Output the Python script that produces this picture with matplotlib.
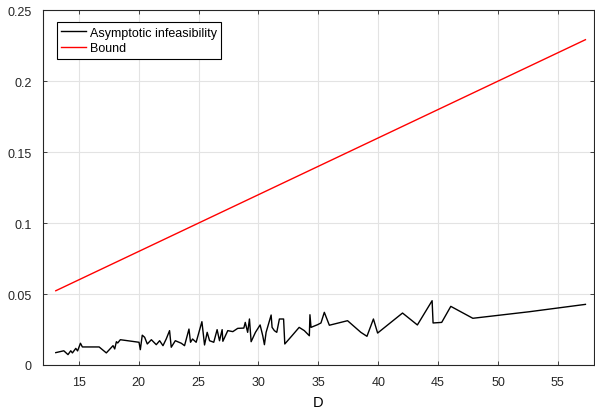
import matplotlib

matplotlib.use("Agg")
import matplotlib.pyplot as plt  # noqa: E402

# asymptotic infeasibility vs D
D = [13.08, 13.75, 14.1, 14.33, 14.47, 14.75, 14.9, 15.14, 15.3, 16.2, 16.7, 17.3,
     17.86, 18.0, 18.14, 18.25, 18.47, 20.03, 20.14, 20.3, 20.5, 20.72, 21.06, 21.47,
     21.75, 22.03, 22.3, 22.58, 22.72, 23.06, 23.56, 23.83, 24.2, 24.33, 24.5, 24.8,
     25.28, 25.5, 25.72, 25.92, 26.27, 26.55, 26.75, 26.97, 27.03, 27.44, 27.86, 28.27,
     28.78, 28.9, 29.1, 29.25, 29.39, 29.75, 30.14, 30.36, 30.5, 30.64, 31.06, 31.14,
     31.33, 31.53, 31.75, 32.1, 32.2, 32.8, 33.4, 33.83, 34.25, 34.3, 34.39, 34.94,
     35.22, 35.5, 35.92, 37.44, 38.55, 39.06, 39.6, 39.95, 42.03, 43.27, 44.5, 44.58,
     45.3, 46.06, 47.9, 52.6, 57.3]
infeas = [0.0087, 0.0100, 0.0073, 0.0100, 0.0085, 0.0117, 0.0099, 0.0153, 0.0127, 0.0127,
          0.0127, 0.0085, 0.0136, 0.0113, 0.0164, 0.0155, 0.0178, 0.0160, 0.0108, 0.0210,
          0.0195, 0.0148, 0.0178, 0.0143, 0.0171, 0.0136, 0.0183, 0.0242, 0.0125, 0.0171,
          0.0153, 0.0136, 0.0253, 0.0160, 0.0183, 0.0160, 0.0305, 0.0141, 0.0230, 0.0171,
          0.0160, 0.0249, 0.0171, 0.0249, 0.0167, 0.0242, 0.0235, 0.0258, 0.0260, 0.0300,
          0.0230, 0.0324, 0.0164, 0.0230, 0.0282, 0.0206, 0.0143, 0.0230, 0.0352, 0.0265,
          0.0242, 0.0230, 0.0324, 0.0324, 0.0148, 0.0206, 0.0265, 0.0242, 0.0206, 0.0354,
          0.0265, 0.0284, 0.0296, 0.0371, 0.0280, 0.0312, 0.0230, 0.0202, 0.0324, 0.0225,
          0.0366, 0.0282, 0.0453, 0.0296, 0.0300, 0.0413, 0.0329, 0.0375, 0.0427]

# bound endpoints
bound_D = [13.08, 57.3]
bound = [0.0523, 0.2292]

xticks = [15, 20, 25, 30, 35, 40, 45, 50, 55]
yticks = [0, 0.05, 0.1, 0.15, 0.2, 0.25]
ytick_labels = ["0", "0.05", "0.1", "0.15", "0.2", "0.25"]

plt.rcParams["font.family"] = ["Liberation Sans", "DejaVu Sans"]
plt.rcParams["font.size"] = 9

fig = plt.figure(figsize=(5.95, 4.14), dpi=100)
ax = fig.add_axes([0.072, 0.116, 0.926, 0.857])

ax.plot(D, infeas, color="black", lw=1.0, label="Asymptotic infeasibility")
ax.plot(bound_D, bound, color="red", lw=1.0, label="Bound")

ax.set_xlim(12, 58)
ax.set_ylim(0, 0.25)
ax.set_xticks(xticks)
ax.set_yticks(yticks)
ax.set_yticklabels(ytick_labels)
ax.grid(True, color="#e3e3e3", lw=0.8)
ax.set_axisbelow(True)
ax.tick_params(direction="in", top=True, right=True, length=3, width=0.6,
               colors="#262626", labelsize=9, pad=8)
for s in ax.spines.values():
    s.set_color("#262626")
    s.set_linewidth(0.8)
ax.set_xlabel("D", fontsize=10.5, labelpad=5)

leg = ax.legend(loc="upper left", bbox_to_anchor=(0.025, 0.966), borderaxespad=0,
                fancybox=False, framealpha=1, edgecolor="black", handlelength=2.0,
                handletextpad=0.3, borderpad=0.35, labelspacing=0.3, fontsize=9)
leg.get_frame().set_linewidth(0.8)

fig.savefig("out.png", dpi=100)
